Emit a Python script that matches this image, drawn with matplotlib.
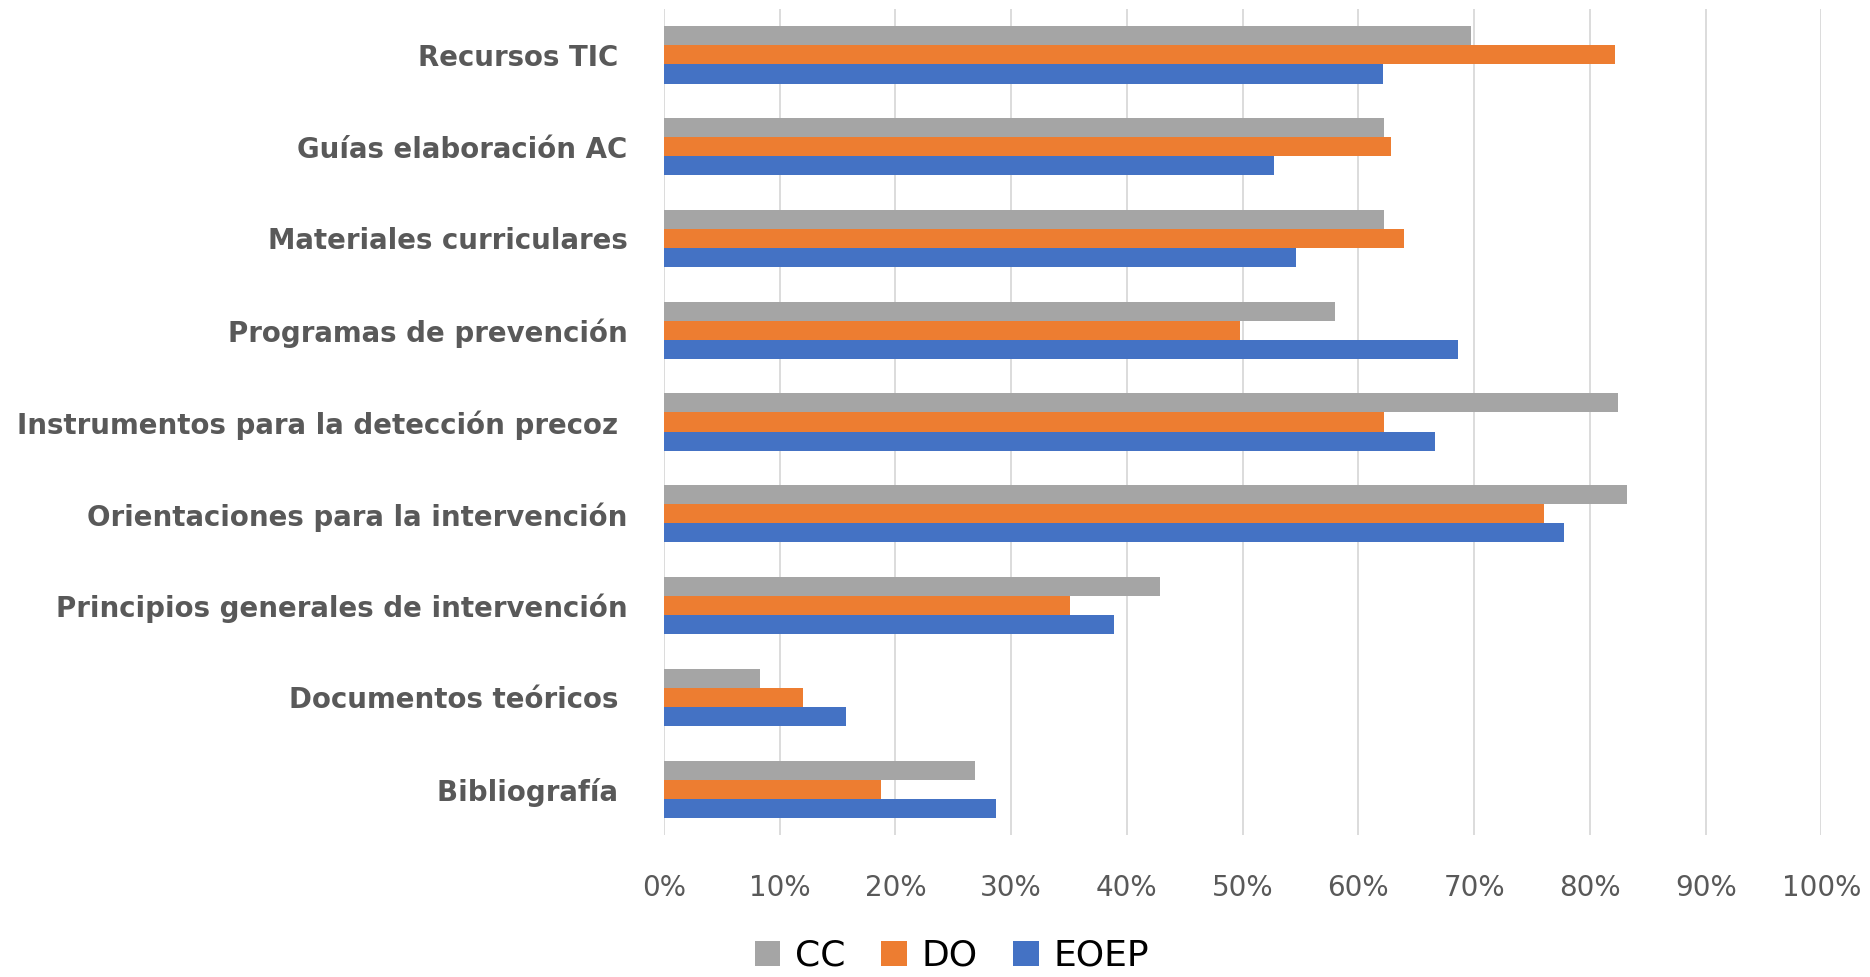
import matplotlib
matplotlib.use("Agg")
import matplotlib.pyplot as plt
import numpy as np
from matplotlib.ticker import FuncFormatter, MultipleLocator

categories = [
    "Recursos TIC ",
    "Guías elaboración AC",
    "Materiales curriculares",
    "Programas de prevención",
    "Instrumentos para la detección precoz ",
    "Orientaciones para la intervención",
    "Principios generales de intervención",
    "Documentos teóricos ",
    "Bibliografía ",
]
cc = [0.697, 0.622, 0.622, 0.580, 0.824, 0.832, 0.429, 0.083, 0.269]
do = [0.822, 0.628, 0.639, 0.498, 0.622, 0.760, 0.351, 0.120, 0.188]
eoep = [0.621, 0.527, 0.546, 0.686, 0.666, 0.778, 0.389, 0.157, 0.287]
series_names = ["CC", "DO", "EOEP"]
colors = ["#A5A5A5", "#ED7D31", "#4472C4"]

fig = plt.figure(figsize=(18.7, 9.77), dpi=100)
ax = fig.add_axes([0.355, 0.1453, 0.619, 0.8455])

n = len(categories)
y = np.arange(n)
h = 0.208
for i, (vals, name, col) in enumerate(zip([cc, do, eoep], series_names, colors)):
    ax.barh(y + (i - 1) * h, vals, height=h, color=col, label=name, zorder=3)

ax.set_ylim(n - 0.5, -0.5)
ax.set_xlim(0, 1.0)
ax.xaxis.set_major_locator(MultipleLocator(0.1))
ax.xaxis.set_major_formatter(FuncFormatter(lambda v, p: f"{v*100:.0f}%"))
ax.grid(axis="x", color="#D9D9D9", linewidth=1.3, zorder=0)
for s in ax.spines.values():
    s.set_visible(False)
ax.tick_params(axis="both", length=0)
ax.tick_params(axis="x", pad=28, labelsize=20, labelcolor="#595959")
ax.set_yticks(y)
ax.set_yticklabels(categories, fontsize=19.9, fontweight="bold", color="#595959",
                   family="DejaVu Sans")
ax.tick_params(axis="y", pad=26)

fig.legend(loc="center", bbox_to_anchor=(0.509, 1 - 956 / 977), ncol=3,
           frameon=False, fontsize=26, handlelength=0.7, handleheight=0.7,
           handletextpad=0.4, columnspacing=1.0)

fig.savefig("out.png", dpi=100)
